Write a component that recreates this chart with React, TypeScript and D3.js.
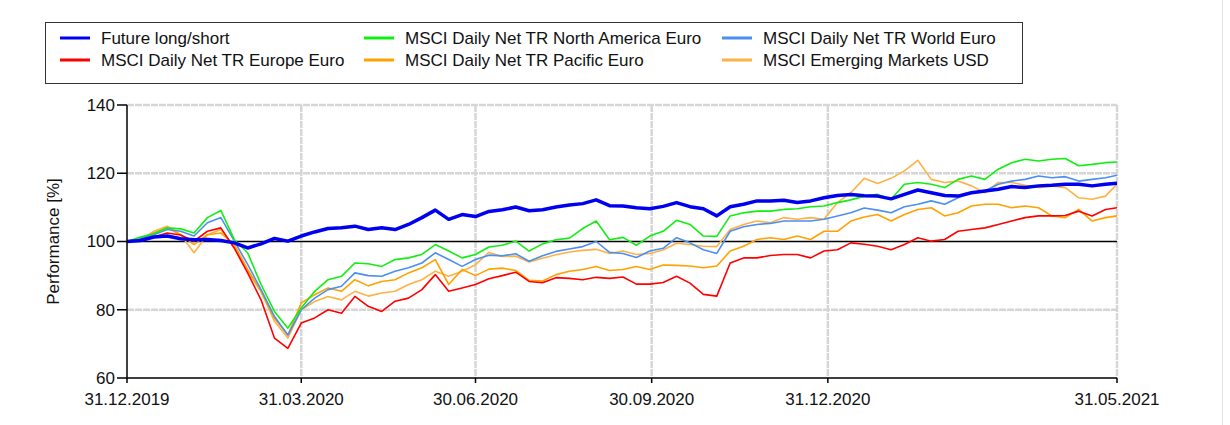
import React from "react";
import * as d3 from "d3";

const dates = [
  "2019-12-31","2020-01-07","2020-01-14","2020-01-21","2020-01-28","2020-02-04","2020-02-11","2020-02-18","2020-02-25","2020-03-03",
  "2020-03-10","2020-03-17","2020-03-24","2020-03-31","2020-04-07","2020-04-14","2020-04-21","2020-04-28","2020-05-05","2020-05-12",
  "2020-05-19","2020-05-26","2020-06-02","2020-06-09","2020-06-16","2020-06-23","2020-06-30","2020-07-07","2020-07-14","2020-07-21",
  "2020-07-28","2020-08-04","2020-08-11","2020-08-18","2020-08-25","2020-09-01","2020-09-08","2020-09-15","2020-09-22","2020-09-29",
  "2020-10-06","2020-10-13","2020-10-20","2020-10-27","2020-11-03","2020-11-10","2020-11-17","2020-11-24","2020-12-01","2020-12-08",
  "2020-12-15","2020-12-22","2020-12-29","2021-01-05","2021-01-12","2021-01-19","2021-01-26","2021-02-02","2021-02-09","2021-02-16",
  "2021-02-23","2021-03-02","2021-03-09","2021-03-16","2021-03-23","2021-03-30","2021-04-06","2021-04-13","2021-04-20","2021-04-27",
  "2021-05-04","2021-05-11","2021-05-18","2021-05-25","2021-05-31"
];

const futureLS = [
  100, 100.3, 101.3, 101.6, 100.8, 100.5, 100.6, 100.3, 99.6, 98.1,
  99.3, 100.9, 100.1, 101.6, 102.8, 103.8, 104, 104.5, 103.5, 104,
  103.5, 105, 107, 109.2, 106.5, 107.9, 107.3, 108.8, 109.3, 110.1,
  109, 109.3, 110.1, 110.7, 111.1, 112.2, 110.5, 110.4, 109.9, 109.6,
  110.3, 111.4, 110.2, 109.6, 107.5, 110.2, 110.9, 111.9, 111.9, 112.1,
  111.4, 111.9, 112.8, 113.5, 113.8, 113.4, 113.3, 112.5, 113.8, 115.1,
  114.3, 113.5, 113.3, 114.3, 114.8, 115.3, 116.1, 115.8, 116.3, 116.5,
  116.8, 116.8, 116.3, 116.8, 117.1
];
const northAmerica = [
  100, 101.3, 102.3, 104, 103.7, 102.5, 107, 109.1, 100.6, 96.7,
  87.4, 79.5, 74.6, 80.5, 85.4, 88.8, 89.8, 93.7, 93.5, 92.7,
  94.7, 95.2, 96.2, 99.1, 97.2, 95.2, 96.2, 98.4, 98.9, 100.1,
  97.2, 99.3, 100.5, 101, 103.8, 106, 100.5, 101.2, 98.9, 101.6,
  103, 106.2, 105, 101.6, 101.5, 107.5, 108.4, 108.9, 108.9, 109.4,
  109.6, 110.2, 110.4, 111.4, 112.2, 113.3, 113.8, 112.4, 116.8, 117.3,
  116.8, 115.8, 118.2, 119.2, 118.2, 121.2, 123.1, 124.1, 123.6, 124.1,
  124.3, 122.2, 122.6, 123.1, 123.3
];
const world = [
  100, 101, 102, 103.5, 103, 101.6, 105.5, 107, 100.2, 93.3,
  85.9, 78, 72.6, 80, 83.4, 85.9, 86.9, 90.8, 90, 89.8,
  91.3, 92.3, 93.7, 96.7, 94.7, 92.7, 94.7, 96, 95.8, 96.4,
  94.2, 95.8, 97.1, 97.8, 98.5, 100, 96.8, 96.5, 95.3, 97.2,
  98, 101.1, 99.6, 97.6, 96.5, 103, 104.3, 105, 105.3, 106,
  106, 106, 106.5, 107.5, 108.4, 109.8, 109.2, 108.4, 110.2, 110.9,
  111.9, 110.9, 112.8, 114.3, 114.8, 116.8, 117.7, 118.2, 119.2, 118.7,
  119, 117.7, 118.2, 118.7, 119.4
];
const europe = [
  100, 100.6, 101.3, 102.5, 101.9, 100.1, 103, 104, 98.1, 90.8,
  82.9, 71.7, 68.7, 76.1, 77.6, 80, 79, 83.9, 81, 79.5,
  82.5, 83.4, 85.9, 90.3, 85.4, 86.4, 87.4, 89.1, 90, 91,
  88.3, 87.9, 89.4, 89.2, 88.8, 89.5, 89.2, 89.6, 87.5, 87.5,
  88, 89.8, 87.8, 84.5, 84, 93.7, 95.2, 95.2, 95.9, 96.2,
  96.2, 95.2, 97.2, 97.6, 99.6, 99.2, 98.6, 97.6, 99.1, 101.1,
  100.1, 100.6, 103, 103.5, 104, 105, 106, 107, 107.5, 107.5,
  107.6, 108.9, 107.5, 109.4, 109.9
];
const pacific = [
  100, 101, 102.5, 104, 102, 99.1, 102, 102.5, 99.1, 91.8,
  85.4, 77.5, 72.6, 82, 84.4, 86.4, 85.4, 88.8, 87, 88.3,
  88.8, 90.8, 92.3, 94.7, 87.4, 91.8, 90, 91.9, 92.2, 91.5,
  88.6, 88.4, 90.3, 91.3, 91.8, 92.7, 91.5, 91.8, 92.7, 91.8,
  93.1, 93, 92.8, 92.3, 92.8, 97.2, 98.6, 100.6, 101.1, 100.6,
  101.6, 100.6, 103, 103, 106, 107.2, 107.9, 106, 107.9, 109.4,
  109.9, 107.5, 108.4, 110.4, 110.9, 110.9, 109.9, 110.4, 109.9, 107.5,
  107, 109.4, 106, 107, 107.5
];
const emerging = [
  100, 100.3, 103, 104.5, 102, 96.7, 102, 103.5, 98.1, 91.3,
  85.4, 76.6, 71.7, 80, 82.4, 83.9, 82.9, 85.4, 84, 84.9,
  85.4, 87.4, 88.8, 91.3, 89.8, 91.3, 93.2, 96.8, 95.6, 95.7,
  94, 95.1, 96.1, 96.9, 97.4, 97.7, 96.5, 97.2, 96.2, 96.5,
  97.5, 99.5, 99.1, 98.6, 98.5, 103.5, 105, 106, 105.5, 107,
  106.5, 107, 106.5, 111.4, 114.3, 118.5, 117, 118.5, 120.7, 123.8,
  118.2, 117.3, 117.7, 116.3, 114.3, 117.3, 117.3, 116.5, 115.8, 116.3,
  115.8, 112.8, 112.4, 113.3, 116.8
];

const seriesNames = [
  "Future long/short",
  "MSCI Daily Net TR Europe Euro",
  "MSCI Daily Net TR North America Euro",
  "MSCI Daily Net TR Pacific Euro",
  "MSCI Daily Net TR World Euro",
  "MSCI Emerging Markets USD",
];
const seriesColors = ["#0000f0", "#ff0000", "#11ee11", "#ffa200", "#4b8ff0", "#ffb244"];
const seriesValues = [futureLS, europe, northAmerica, pacific, world, emerging];

const xTickDates = ["2019-12-31", "2020-03-31", "2020-06-30", "2020-09-30", "2020-12-31", "2021-05-31"];
const yTicks = [60, 80, 100, 120, 140];

const parse = d3.timeParse("%Y-%m-%d");
const fmt = d3.timeFormat("%d.%m.%Y");
const FONT = "'Liberation Sans', Arial, sans-serif";

export default function App() {
  const W = 1230, H = 425;
  const L = 127, R = 1117, T = 105, B = 378;
  const FS = 17;
  const dateObjs = dates.map((d) => parse(d) as Date);
  const x = d3.scaleTime().domain([parse("2019-12-31") as Date, parse("2021-05-31") as Date]).range([L, R]);
  const y = d3.scaleLinear().domain([60, 140]).range([B, T]);
  const line = d3.line<number>().x((_, i) => x(dateObjs[i])).y((d) => y(d));
  const xt = xTickDates.map((d) => parse(d) as Date);

  const legendOrder = [0, 2, 4, 1, 3, 5];
  const colX = [60, 364, 722];
  const rowY = [38, 60];

  const drawOrder = [5, 3, 1, 4, 2, 0];

  return (
    <svg width={W} height={H} style={{ position: "absolute", left: 0, top: 0, background: "#fff" }} fontFamily={FONT}>
      <rect x={0} y={0} width={W} height={H} fill="#fff" />
      <line x1={1222.5} y1={0} x2={1222.5} y2={H} stroke="#e4e4e4" strokeWidth={1} />
      {/* legend */}
      <rect x={45.5} y={22.5} width={977} height={61} fill="#fff" stroke="#333" strokeWidth={1} />
      {legendOrder.map((si, k) => {
        const c = k % 3;
        const r = Math.floor(k / 3);
        return (
          <g key={si}>
            <line x1={colX[c]} x2={colX[c] + 30} y1={rowY[r]} y2={rowY[r]} stroke={seriesColors[si]} strokeWidth={3} />
            <text x={colX[c] + 41} y={rowY[r]} dy="0.35em" fontSize={FS} fill="#111">{seriesNames[si]}</text>
          </g>
        );
      })}
      {/* grid */}
      {yTicks.filter((v) => v !== 100 && v !== 60).map((v) => (
        <line key={"gy" + v} x1={L} x2={R} y1={y(v)} y2={y(v)} stroke="#d6d6d6" strokeWidth={2.5} strokeDasharray="7,1" />
      ))}
      {xt.slice(1).map((d, i) => (
        <line key={"gx" + i} x1={x(d)} x2={x(d)} y1={T} y2={B} stroke="#d6d6d6" strokeWidth={2.5} strokeDasharray="7,1" />
      ))}
      {/* 100 baseline */}
      <line x1={L} x2={R} y1={y(100)} y2={y(100)} stroke="#000" strokeWidth={1.5} />
      {/* series */}
      {drawOrder.map((si) => (
        <path key={"s" + si} d={line(seriesValues[si]) || ""} fill="none" stroke={seriesColors[si]}
          strokeWidth={si === 0 ? 3.5 : 1.6} strokeLinejoin="round" />
      ))}
      {/* axes */}
      <line x1={L} x2={L} y1={T} y2={B} stroke="#000" strokeWidth={1.5} />
      <line x1={L} x2={R} y1={B} y2={B} stroke="#000" strokeWidth={1.5} />
      {yTicks.map((v) => (
        <g key={"yt" + v}>
          <line x1={L - 10} x2={L} y1={y(v)} y2={y(v)} stroke="#000" strokeWidth={1.5} />
          <text x={L - 12} y={y(v)} dy="0.35em" textAnchor="end" fontSize={FS} fill="#111">{v}</text>
        </g>
      ))}
      {xt.map((d, i) => (
        <g key={"xt" + i}>
          <line x1={x(d)} x2={x(d)} y1={B} y2={B + 5} stroke="#000" strokeWidth={1.5} />
          <text x={x(d)} y={B + 21} dy="0.35em" textAnchor="middle" fontSize={FS} fill="#111">{fmt(d)}</text>
        </g>
      ))}
      <text transform={`translate(${53},${y(100)}) rotate(-90)`} textAnchor="middle" dy="0.35em" fontSize={FS} fill="#111">Performance [%]</text>
    </svg>
  );
}
